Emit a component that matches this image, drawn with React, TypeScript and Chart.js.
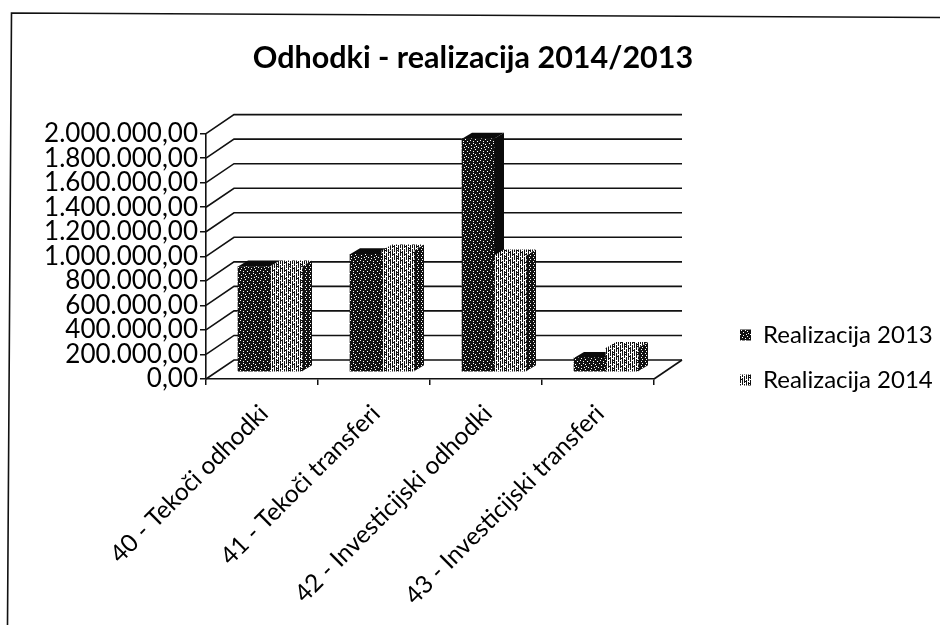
import React, { useEffect, useRef } from "react";
import { Chart, registerables } from "chart.js";

Chart.register(...registerables);

const categories = [
  "40 - Tekoči odhodki",
  "41 - Tekoči transferi",
  "42 - Investicijski odhodki",
  "43 - Investicijski transferi",
];
const realizacija2013 = [860000, 960000, 1900000, 115000];
const realizacija2014 = [860000, 990000, 950000, 195000];
const seriesNames = ["Realizacija 2013", "Realizacija 2014"];
const chartTitle = "Odhodki - realizacija 2014/2013";

const FONT = "Lato, 'Open Sans', sans-serif";

const darkTexture = [
  "#.###.####",
  "#######.##",
  "###.######",
  "########.#",
  ".#####.###",
  "###.######",
  "#######.##",
  "##.#######",
  "#####.###.",
  "##########",
];
const lightTexture = [
  "#.#.#.#.#.#.",
  "#.#.###.#...",
  "#.#.#.#.#.#.",
  "#...#...###.",
  "#.#.#.#.#.#.",
  "###...#.#.#.",
  "#.#.#.#.#.#.",
  "..#.###...#.",
];
const sideTexture = [
  "#.##",
  "####",
  "##.#",
  "####",
];

function makePattern(rows: string[]): CanvasPattern | string {
  const c = document.createElement("canvas");
  c.width = rows[0].length;
  c.height = rows.length;
  const g = c.getContext("2d")!;
  g.fillStyle = "#fff";
  g.fillRect(0, 0, c.width, c.height);
  g.fillStyle = "#111";
  rows.forEach((row, y) =>
    row.split("").forEach((ch, x) => {
      if (ch === "#") g.fillRect(x, y, 1, 1);
    })
  );
  return g.createPattern(c, "repeat") ?? "#555";
}

// Perspective offsets of the 3D-look box
const WALL_DX = 28;
const WALL_DY = -19;
const BAR_DX = 8;
const BAR_DY = -7;
const DEPTH_DX = 10;
const DEPTH_DY = -6;

export default function App() {
  const ref = useRef<HTMLCanvasElement>(null);

  useEffect(() => {
    document.body.style.margin = "0";
    const dark = makePattern(darkTexture);
    const light = makePattern(lightTexture);
    const side = makePattern(sideTexture);

    const frame = {
      id: "frame",
      beforeDraw(chart: any) {
        const c = chart.ctx;
        c.save();
        c.fillStyle = "#fff";
        c.fillRect(0, 0, chart.width, chart.height);
        c.strokeStyle = "#111";
        c.lineWidth = 1.6;
        c.beginPath();
        c.moveTo(7.5, 625);
        c.lineTo(11.5, 13);
        c.lineTo(940, 17.5);
        c.stroke();
        c.restore();
      },
    };

    const box3d = {
      id: "box3d",
      afterLayout(chart: any) {
        const lg = chart.legend;
        const w = lg.width;
        const h = lg.height;
        lg.left = 719;
        lg.right = 719 + w;
        lg.top = 302;
        lg.bottom = 302 + h;
        const tb = chart.titleBlock;
        tb.left = 0;
        tb.right = 946;
      },
      beforeDatasetsDraw(chart: any) {
        const c = chart.ctx;
        const y = chart.scales.y;
        const x = chart.scales.x;
        const left = x.left;
        const right = x.right;
        const floor = y.getPixelForValue(0);
        c.save();
        c.strokeStyle = "#111";
        c.lineWidth = 1.6;
        y.ticks.forEach((t: any) => {
          const p = y.getPixelForValue(t.value);
          c.beginPath();
          c.moveTo(left, p);
          c.lineTo(left + WALL_DX, p + WALL_DY);
          c.lineTo(right + WALL_DX, p + WALL_DY);
          c.stroke();
        });
        c.beginPath();
        c.moveTo(right, floor);
        c.lineTo(right + WALL_DX, floor + WALL_DY);
        c.stroke();
        c.restore();

        // Bars sit part-way back on the floor
        c.save();
        c.translate(BAR_DX, BAR_DY);
        chart.getSortedVisibleDatasetMetas().forEach((meta: any, i: number) => {
          meta.data.forEach((bar: any) => {
            const { x: cx, y: top, base, width } = bar.getProps(["x", "y", "base", "width"]);
            const l = cx - width / 2;
            const r = cx + width / 2;
            c.fillStyle = i === 0 ? "#0a0a0a" : side;
            c.beginPath();
            c.moveTo(r, top);
            c.lineTo(r + DEPTH_DX, top + DEPTH_DY);
            c.lineTo(r + DEPTH_DX, base + DEPTH_DY);
            c.lineTo(r, base);
            c.closePath();
            c.fill();
            c.fillStyle = i === 0 ? "#0a0a0a" : light;
            c.beginPath();
            c.moveTo(l, top);
            c.lineTo(l + DEPTH_DX, top + DEPTH_DY);
            c.lineTo(r + DEPTH_DX, top + DEPTH_DY);
            c.lineTo(r, top);
            c.closePath();
            c.fill();
          });
        });
      },
      afterDatasetsDraw(chart: any) {
        chart.ctx.restore();
      },
    };

    const chart = new Chart(ref.current!, {
      type: "bar",
      data: {
        labels: categories,
        datasets: [
          { label: seriesNames[0], data: realizacija2013, backgroundColor: dark as any, barThickness: 32 },
          { label: seriesNames[1], data: realizacija2014, backgroundColor: light as any, barThickness: 32 },
        ],
      },
      plugins: [frame, box3d],
      options: {
        animation: false,
        responsive: false,
        layout: { padding: { left: 0, right: 71, top: 0, bottom: 0 } },
        plugins: {
          tooltip: { enabled: false },
          title: {
            display: true,
            text: chartTitle,
            color: "#000",
            font: { family: FONT, size: 30.5, weight: "bold" },
            padding: { top: 40, bottom: 57 },
          },
          legend: {
            position: "right",
            align: "start",
            labels: {
              color: "#000",
              boxWidth: 11,
              boxHeight: 11,
              padding: 21,
              font: { family: FONT, size: 24 },
            },
          },
        },
        scales: {
          x: {
            afterFit(s: any) {
              s.height = 246;
            },
            border: { display: true, color: "#111", width: 1.6 },
            grid: { drawOnChartArea: false, drawTicks: true, tickLength: 6, color: "#111", lineWidth: 1.5 },
            ticks: {
              color: "#000",
              minRotation: 45,
              maxRotation: 45,
              labelOffset: 2,
              padding: 14,
              autoSkip: false,
              font: { family: FONT, size: 24.5 },
            },
          },
          y: {
            min: 0,
            max: 2000000,
            afterFit(s: any) {
              s.width = 206;
            },
            border: { display: true, color: "#111", width: 1.6 },
            grid: { drawOnChartArea: false, drawTicks: true, tickLength: 6, color: "#111", lineWidth: 1.5 },
            ticks: {
              stepSize: 200000,
              autoSkip: false,
              color: "#000",
              padding: 2,
              font: { family: FONT, size: 26 },
              callback: (v: any) =>
                Number(v).toLocaleString("de-DE", { minimumFractionDigits: 2, maximumFractionDigits: 2 }),
            },
          },
        },
      },
    } as any);
    return () => chart.destroy();
  }, []);

  return (
    <div style={{ width: 943, height: 625 }}>
      <canvas ref={ref} width={943} height={625} style={{ display: "block" }} />
    </div>
  );
}
